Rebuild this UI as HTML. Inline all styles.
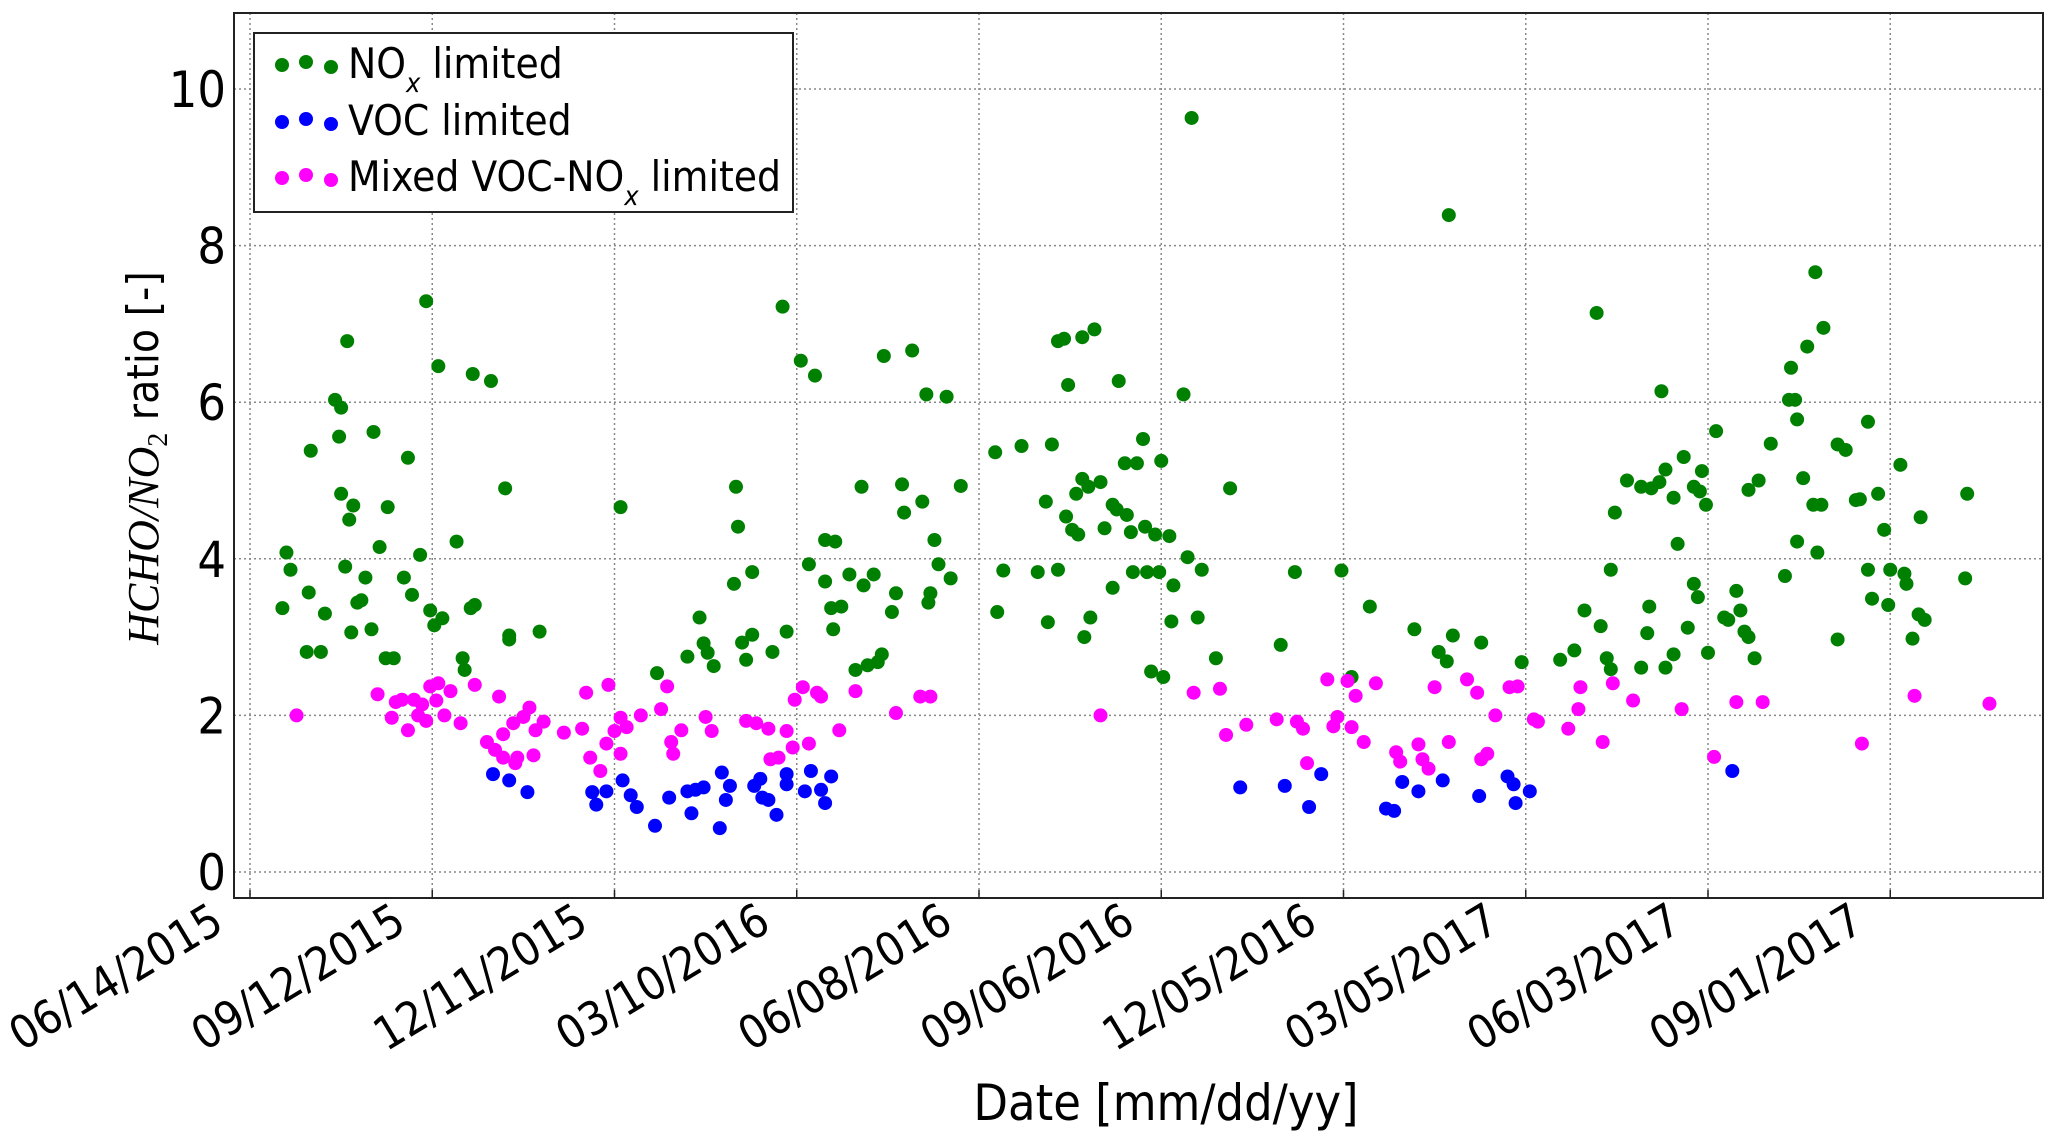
<!DOCTYPE html>
<html><head><meta charset="utf-8"><style>
html,body{margin:0;padding:0;background:#fff;}
svg{display:block;}
text{font-family:"DejaVu Sans Condensed","Liberation Sans Narrow","Liberation Sans",sans-serif;fill:#000;}
</style></head><body>
<svg id="chart" width="2067" height="1139" viewBox="0 0 2067 1139" xmlns="http://www.w3.org/2000/svg">
<g id="grid"></g>
<g id="points"></g>
<rect x="234" y="13" width="1809" height="885" fill="none" stroke="#222" stroke-width="2"/>
<g id="ticks"></g>
<text x="1166" y="1120" font-size="50" text-anchor="middle">Date [mm/dd/yy]</text>
<text transform="translate(158,458) rotate(-90)" font-size="44" text-anchor="middle"><tspan font-family="Liberation Serif,serif" font-style="italic">HCHO/NO</tspan><tspan font-family="Liberation Serif,serif" font-size="28" dy="9">2</tspan><tspan dy="-9"> ratio [-]</tspan></text>
<g>
<rect x="254" y="33" width="539" height="179" fill="#fff" stroke="#222" stroke-width="2"/>
<g>
<circle cx="282" cy="65" r="7" fill="#008000"/><circle cx="306" cy="62" r="7" fill="#008000"/><circle cx="331" cy="67" r="7" fill="#008000"/>
<text x="348" y="78" font-size="42">NO<tspan font-size="27" font-style="italic" dy="14">x</tspan><tspan dy="-14"> limited</tspan></text></g>
<g>
<circle cx="282" cy="122" r="7" fill="#0000ff"/><circle cx="306" cy="119" r="7" fill="#0000ff"/><circle cx="331" cy="124" r="7" fill="#0000ff"/>
<text x="348" y="135" font-size="42">VOC limited</text></g>
<g>
<circle cx="282" cy="178" r="7" fill="#ff00ff"/><circle cx="306" cy="175" r="7" fill="#ff00ff"/><circle cx="331" cy="180" r="7" fill="#ff00ff"/>
<text x="348" y="191" font-size="42">Mixed VOC-NO<tspan font-size="27" font-style="italic" dy="14">x</tspan><tspan dy="-14"> limited</tspan></text></g>
</g>
</svg>
<script>
const xTickLabels=["06/14/2015","09/12/2015","12/11/2015","03/10/2016","06/08/2016","09/06/2016","12/05/2016","03/05/2017","06/03/2017","09/01/2017"];
const xTickDays=[0,90,180,270,360,450,540,630,720,810];
const yTicks=[0,2,4,6,8,10];
const noxDays=[18,20,16,30,28,29,35,37,42,45,44,48,45,47,49,51,50,53,55,57,60,61,64,68,67,71,76,78,80,84,87,89,93,95,91,102,105,106,109,111,110,119,126,128,128,143,183,201,216,222,224,226,229,239,240,241,243,245,248,248,258,263,265,272,276,279,284,284,287,288,289,292,296,299,302,303,305,308,310,312,313,317,319,322,323,327,332,334,335,336,338,340,344,346,351,368,369,372,381,389,393,394,396,399,399,402,404,403,406,408,409,411,411,412,414,415,417,420,422,426,426,428,429,432,433,435,436,438,441,442,443,445,447,449,450,451,454,455,456,461,463,465,468,470,477,484,509,516,539,544,553,575,587,591,592,594,608,628,647,654,659,665,667,670,672,672,674,680,687,687,690,691,692,696,699,699,697,703,703,705,708,710,713,713,715,716,717,719,720,724,728,730,734,736,738,740,740,743,745,751,758,760,761,763,764,764,767,769,772,773,774,776,777,784,784,788,793,795,799,799,801,804,807,809,810,815,817,818,821,824,825,827,848,847];
const noxVals=[4.08,3.86,3.37,5.38,2.81,3.57,2.81,3.3,6.03,5.93,5.56,6.78,4.83,3.9,4.5,4.68,3.06,3.44,3.47,3.76,3.1,5.62,4.15,4.66,2.73,2.73,3.76,5.29,3.54,4.05,7.29,3.34,6.46,3.24,3.15,4.22,2.73,2.58,3.37,3.41,6.36,6.27,4.9,3.02,2.97,3.07,4.66,2.54,2.75,3.25,2.92,2.8,2.63,3.68,4.92,4.41,2.93,2.71,3.83,3.03,2.81,7.22,3.07,6.53,3.93,6.34,3.71,4.24,3.37,3.1,4.22,3.39,3.8,2.58,4.92,3.66,2.64,3.8,2.68,2.78,6.59,3.32,3.56,4.95,4.59,6.66,4.73,6.1,3.44,3.56,4.24,3.93,6.07,3.75,4.93,5.36,3.32,3.85,5.44,3.83,4.73,3.19,5.46,3.86,6.78,6.81,6.22,4.54,4.37,4.83,4.31,5.02,6.83,3.0,4.92,3.25,6.93,4.98,4.39,4.69,3.63,4.63,6.27,5.22,4.56,4.34,3.83,5.22,5.53,4.41,3.83,2.56,4.31,3.83,5.25,2.49,4.29,3.2,3.66,6.1,4.02,9.63,3.25,3.86,2.73,4.9,2.9,3.83,3.85,2.49,3.39,3.1,2.81,2.69,8.39,3.02,2.93,2.68,2.71,2.83,3.34,7.14,3.14,2.73,2.59,3.86,4.59,5.0,2.61,4.92,3.05,3.39,4.9,4.98,5.14,2.61,6.14,4.78,2.78,4.19,5.3,3.12,3.68,4.92,3.51,4.86,5.12,4.69,2.8,5.63,3.25,3.22,3.59,3.34,3.07,3.0,4.88,2.73,5.0,5.47,3.78,6.03,6.44,6.03,5.78,4.22,5.03,6.71,4.69,7.66,4.08,4.69,6.95,2.97,5.46,5.39,4.75,4.76,5.75,3.86,3.49,4.83,4.37,3.41,3.86,5.2,3.81,3.68,2.98,3.29,4.53,3.22,4.83,3.75];
const vocDays=[120,128,137,169,171,176,184,188,191,200,207,216,218,220,224,232,233,235,237,249,252,253,256,260,265,265,274,277,282,284,287,489,511,523,529,561,565,569,577,589,607,621,624,625,632,732];
const vocVals=[1.25,1.17,1.02,1.02,0.86,1.03,1.17,0.98,0.83,0.59,0.95,1.03,0.75,1.05,1.08,0.56,1.27,0.92,1.1,1.1,1.19,0.95,0.92,0.73,1.12,1.25,1.03,1.29,1.05,0.88,1.22,1.08,1.1,0.83,1.25,0.81,0.78,1.15,1.03,1.17,0.97,1.22,1.12,0.88,1.03,1.29];
const mixDays=[23,63,70,72,75,78,81,83,85,87,89,92,93,96,99,104,111,117,121,123,125,125,130,131,132,135,138,140,141,145,155,166,164,168,173,177,176,180,183,183,186,193,203,206,208,209,213,225,228,245,250,256,257,261,265,268,269,273,276,280,282,291,299,319,331,336,420,466,479,482,492,507,517,520,522,532,535,537,542,544,546,550,556,566,568,577,579,582,585,592,601,606,608,611,615,622,626,634,636,651,656,657,668,673,683,707,723,734,747,796,822,859];
const mixVals=[2.0,2.27,1.97,2.17,2.2,1.81,2.2,2.0,2.14,1.93,2.37,2.19,2.41,2.0,2.31,1.9,2.39,1.66,1.56,2.24,1.46,1.76,1.9,1.39,1.46,1.98,2.1,1.49,1.81,1.92,1.78,2.29,1.83,1.46,1.29,2.39,1.64,1.8,1.97,1.51,1.85,2.0,2.08,2.37,1.66,1.51,1.81,1.98,1.8,1.93,1.9,1.83,1.44,1.46,1.8,1.59,2.2,2.36,1.64,2.29,2.24,1.81,2.31,2.03,2.24,2.24,2.0,2.29,2.34,1.75,1.88,1.95,1.92,1.83,1.39,2.46,1.86,1.98,2.44,1.85,2.25,1.66,2.41,1.53,1.41,1.63,1.44,1.32,2.36,1.66,2.46,2.29,1.44,1.51,2.0,2.36,2.37,1.95,1.92,1.83,2.08,2.36,1.66,2.41,2.19,2.08,1.47,2.17,2.17,1.64,2.25,2.15];

const NS="http://www.w3.org/2000/svg";
const L=234,R=2043,T=13,B=898;
function xS(d){return 250+d*2.025;}
function yS(v){return 872-v*78.3;}
function mk(tag,attrs,parent){const e=document.createElementNS(NS,tag);for(const k in attrs)e.setAttribute(k,attrs[k]);parent.appendChild(e);return e;}
const grid=document.getElementById('grid'),ticks=document.getElementById('ticks'),pts=document.getElementById('points');
xTickDays.forEach((d,i)=>{
  const x=xS(d);
  const g=mk('line',{x1:x,x2:x,y1:T,y2:B,stroke:'#888','stroke-width':1.5,'stroke-dasharray':'2,3'},grid);
  
  
  const t=mk('line',{x1:x,x2:x,y1:B,y2:B-8,stroke:'#222','stroke-width':1.5},ticks);
  
  
  const ax=x-24, ay=B+31;
  const lb=mk('text',{x:ax,y:ay,'font-size':46,'text-anchor':'end',transform:`rotate(-31 ${ax} ${ay})`},ticks);
  lb.textContent=xTickLabels[i];
  
  
});
yTicks.forEach(v=>{
  const y=yS(v);
  const g=mk('line',{x1:L,x2:R,y1:y,y2:y,stroke:'#888','stroke-width':1.5,'stroke-dasharray':'2,3'},grid);
  
  
  const lb=mk('text',{x:L-8,y:y+18,'font-size':50,'text-anchor':'end'},ticks);
  lb.textContent=String(v);
  
  
});
function series(days,vals,color,name){
  days.forEach((d,i)=>{
    const c=mk('circle',{cx:xS(d),cy:yS(vals[i]),r:7,fill:color},pts);
    
    
  });
}
series(noxDays,noxVals,'#008000','nox-limited-point');
series(vocDays,vocVals,'#0000ff','voc-limited-point');
series(mixDays,mixVals,'#ff00ff','mixed-limited-point');
</script>
</body></html>
